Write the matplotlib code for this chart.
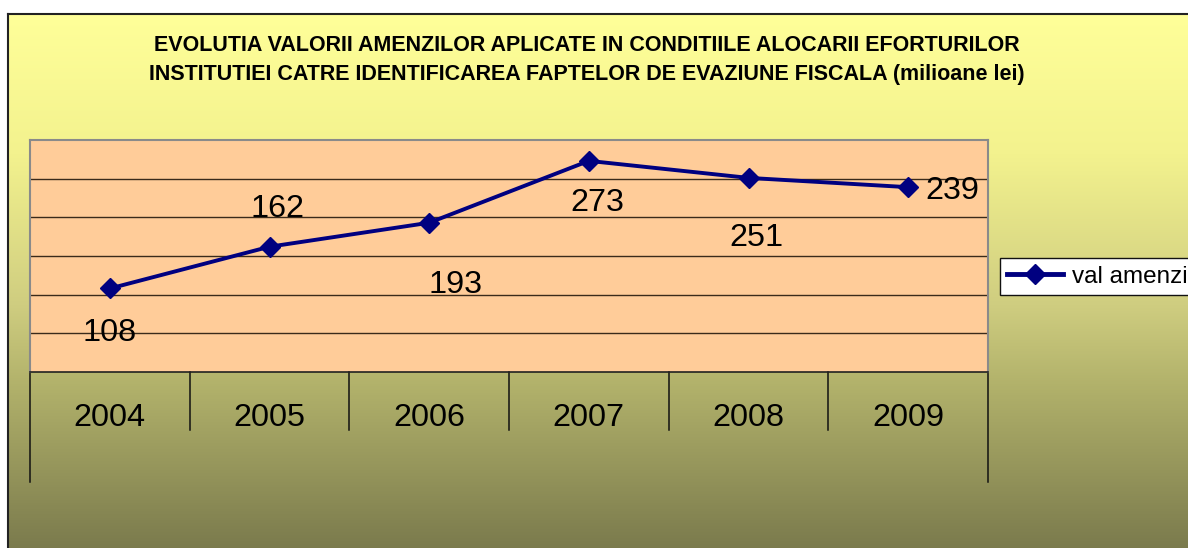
import numpy as np
import matplotlib
matplotlib.use("Agg")
import matplotlib.pyplot as plt
import matplotlib.transforms as mtransforms
from matplotlib.colors import LinearSegmentedColormap

plt.rcParams['font.family'] = ['Liberation Sans', 'DejaVu Sans']

# date
ani = ['2004', '2005', '2006', '2007', '2008', '2009']
val_amenzi = [108, 162, 193, 273, 251, 239]
eticheta_serie = 'val amenzi'
titlu = ('EVOLUTIA VALORII AMENZILOR APLICATE IN CONDITIILE ALOCARII EFORTURILOR\n'
         'INSTITUTIEI CATRE IDENTIFICAREA FAPTELOR DE EVAZIUNE FISCALA (milioane lei)')

# deplasari etichete (puncte tipografice)
deplasari = [(0, -32), (6, 27), (19, -45), (6, -30), (6, -43), (32, -3)]

W, H = 1188, 548
fig = plt.figure(figsize=(W / 100, H / 100), dpi=100)
fig.patch.set_facecolor('white')

# fundal cu gradient
bg = fig.add_axes([8 / W, -0.05, 1.0, (H - 14) / H + 0.05])
cmap = LinearSegmentedColormap.from_list('fundal', [
    (0.0, '#FFFF99'), (0.25, '#F3F28E'), (0.52, '#CFCD80'),
    (0.66, '#B2B26B'), (1.0, '#727248')])
grad = np.linspace(0, 1, 256).reshape(-1, 1)
bg.imshow(grad, aspect='auto', cmap=cmap, extent=(0, 1, 0, 1), origin='upper')
bg.set_xticks([])
bg.set_yticks([])
for s in ['right', 'bottom']:
    bg.spines[s].set_visible(False)
for s in ['left', 'top']:
    bg.spines[s].set_color('#222222')
    bg.spines[s].set_linewidth(1.5)

fig.text(587 / W, 1 - 60 / H, titlu, ha='center', va='center',
         fontsize=15.5, fontweight='bold', linespacing=1.5)

ax = fig.add_axes([30 / W, (H - 372) / H, 958 / W, 232 / H])
ax.set_facecolor('#FFCC99')
x = np.arange(len(ani))
ax.set_xlim(-0.5, len(ani) - 0.5)
ax.set_ylim(0, 300)
ax.set_yticks(np.arange(50, 300, 50))
ax.yaxis.grid(True, color='#3a2a1a', linewidth=1.0)
ax.tick_params(axis='y', left=False, labelleft=False)
ax.set_xticks(x)
ax.set_xticklabels(ani, fontsize=23.3)
ax.tick_params(axis='x', length=0, pad=22)
for s in ['top', 'left', 'right']:
    ax.spines[s].set_color('#8a8a8a')
    ax.spines[s].set_linewidth(1.5)
ax.spines['bottom'].set_color('#222222')
ax.spines['bottom'].set_linewidth(1.2)

# separatori categorii
trans = mtransforms.blended_transform_factory(ax.transData, ax.transAxes)
margini = np.arange(len(ani) + 1) - 0.5
for i, m in enumerate(margini):
    jos = -0.474 if i in (0, len(margini) - 1) else -0.25
    ax.plot([m, m], [0, jos], color='#111111', lw=1.1, transform=trans,
            clip_on=False)

ax.plot(x, val_amenzi, color='#000080', lw=2.8, marker='D', markersize=10,
        label=eticheta_serie, clip_on=False, zorder=5)

for xi, v, d in zip(x, val_amenzi, deplasari):
    ax.annotate(str(v), (xi, v), xytext=d, textcoords='offset points',
                ha='center', va='center', fontsize=23.3)

leg = ax.legend(loc='center left', bbox_to_anchor=(1000 / W, 1 - 276.5 / H),
                bbox_transform=fig.transFigure, fontsize=17.5, frameon=True,
                fancybox=False, edgecolor='#111111', facecolor='white',
                framealpha=1, borderpad=0.3, handlelength=2.3,
                handletextpad=0.35, borderaxespad=0)
leg.get_frame().set_linewidth(1.0)
for ln in leg.get_lines():
    ln.set_linewidth(3.5)

fig.savefig('out.png', dpi=100)
